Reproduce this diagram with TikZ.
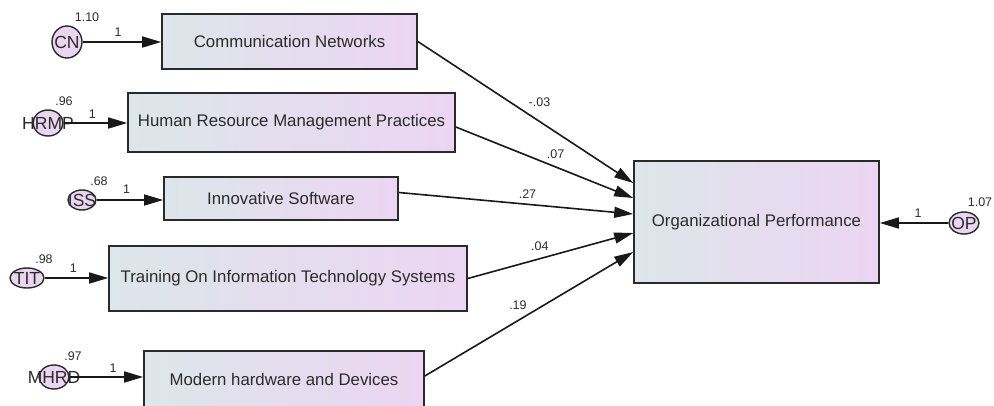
\documentclass[tikz,border=0pt]{standalone}
\usepackage{fontspec}
\setmainfont{Liberation Sans}
\usetikzlibrary{arrows.meta,calc,shapes.geometric}
\definecolor{boxL}{HTML}{DDE6EA}
\definecolor{boxR}{HTML}{ECD5F3}
\definecolor{ellF}{HTML}{EBD6F1}
\definecolor{lineC}{HTML}{2A2A2A}
\definecolor{txt}{HTML}{2B2B2B}
\begin{document}
\begin{tikzpicture}[x=1pt,y=-1pt,
  obs/.style={rectangle, draw=lineC, line width=1.6pt, left color=boxL, right color=boxR,
    inner sep=0pt, text=txt, font=\fontsize{16.8}{18}\selectfont},
  err/.style={ellipse, draw=lineC, line width=1.4pt, fill=ellF, inner sep=0pt},
  errtext/.style={text=txt, font=\fontsize{17.5}{18}\selectfont, inner sep=0pt},
  small/.style={text=txt, font=\fontsize{12.5}{13}\selectfont, inner sep=0pt},
  path/.style={draw=black!90, line width=1.6pt, -{Triangle[length=19pt,width=11pt]}}
]
\useasboundingbox (0,0) rectangle (994,405);

% observed variables
\node[obs, minimum width=255pt, minimum height=55pt] (cnbox) at (289.5,41.5) {Communication Networks};
\node[obs, minimum width=327pt, minimum height=59pt] (hrmpbox) at (291.5,122.5) {Human Resource Management Practices};
\node[obs, minimum width=234pt, minimum height=43pt] (issbox) at (281,198.5) {Innovative Software};
\node[obs, minimum width=358pt, minimum height=65pt] (titbox) at (288,278.5) {Training On Information Technology Systems};
\node[obs, minimum width=280pt, minimum height=57pt] (mhrdbox) at (284,379.5) {Modern hardware and Devices};
\node[obs, minimum width=245pt, minimum height=122pt] (opbox) at (756.5,222) {Organizational Performance};

% error terms
\node[err, minimum width=30pt, minimum height=32pt, label={[errtext]center:CN}] (cn) at (67,42) {};
\node[err, minimum width=30pt, minimum height=26pt, label={[errtext]center:HRMP}] (hrmp) at (48,123) {};
\node[err, minimum width=28pt, minimum height=20pt, label={[errtext]center:ISS}] (iss) at (82,200) {};
\node[err, minimum width=34pt, minimum height=20pt, label={[errtext]center:TIT}] (tit) at (27,278) {};
\node[err, minimum width=30pt, minimum height=24pt, label={[errtext]center:MHRD}] (mhrd) at (54,377) {};
\node[err, minimum width=30pt, minimum height=22pt, label={[errtext]center:OP}] (op) at (964,223) {};

% variances
\node[small] (cnv) at ([shift={(20,-25)}]cn) {1.10};
\node[small] (hrmpv) at ([shift={(16,-22)}]hrmp) {.96};
\node[small] (issv) at ([shift={(17,-19)}]iss) {.68};
\node[small] (titv) at ([shift={(17,-19)}]tit) {.98};
\node[small] (mhrdv) at ([shift={(19,-21)}]mhrd) {.97};
\node[small] (opv) at ([shift={(16,-21)}]op) {1.07};

% error paths
\draw[path] (cn.east) -- (cn.east -| cnbox.west) node[small, pos=0.45, yshift=10pt] {1};
\draw[path] (hrmp.east) -- (hrmp.east -| hrmpbox.west) node[small, pos=0.45, yshift=9pt] {1};
\draw[path] (iss.east) -- (iss.east -| issbox.west) node[small, pos=0.45, yshift=11pt] {1};
\draw[path] (tit.east) -- (tit.east -| titbox.west) node[small, pos=0.45, yshift=10pt] {1};
\draw[path] (mhrd.east) -- (mhrd.east -| mhrdbox.west) node[small, pos=0.59, yshift=9pt] {1};
\draw[path] (op.west) -- (op.west -| opbox.east) node[small, pos=0.44, yshift=10pt] {1};

% structural paths
\draw[path] (cnbox.east) -- ([yshift=39pt]opbox.west) node[small, pos=0.565, yshift=19pt] {-.03};
\draw[path] ([yshift=-4.5pt]hrmpbox.east) -- ([yshift=24pt]opbox.west) node[small, pos=0.5625, yshift=13pt] {.07};
\draw[path] ([yshift=6pt]issbox.east) -- ([yshift=8pt]opbox.west) node[small, pos=0.549, yshift=10pt] {.27};
\draw[path] (titbox.east) -- ([yshift=-11pt]opbox.west) node[small, pos=0.436, yshift=12pt] {.04};
\draw[path] ([yshift=3.5pt]mhrdbox.east) -- ([yshift=-30pt]opbox.west) node[small, pos=0.447, yshift=15.5pt] {.19};
\end{tikzpicture}
\end{document}
